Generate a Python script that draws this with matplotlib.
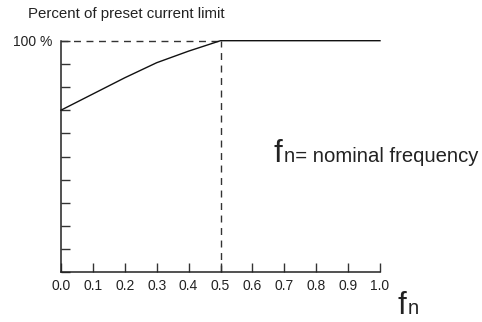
import matplotlib
matplotlib.use("Agg")
import matplotlib.pyplot as plt
import numpy as np

plt.rcParams.update({
    'font.family': ['Liberation Sans', 'DejaVu Sans'],
    'axes.linewidth': 1.1,
})

# current limit curve (percent of preset limit vs f/fn)
freq = [0.0, 0.1, 0.2, 0.3, 0.4, 0.5, 1.0]
limit = [70, 77, 84, 90.5, 95.5, 100, 100]
knee_f = 0.5
x_ticks = [0.0, 0.1, 0.2, 0.3, 0.4, 0.5, 0.6, 0.7, 0.8, 0.9, 1.0]
y_ticks = [0, 10, 20, 30, 40, 50, 60, 70, 80, 90, 100]

W, H = 482, 322
fig = plt.figure(figsize=(W / 100, H / 100), dpi=100)
ax = fig.add_axes([61 / W, (H - 272.3) / H, (380 - 61) / W, (272.3 - 40.7) / H])

ax.plot(freq, limit, color='#111', lw=1.0, clip_on=False, zorder=3)
ax.plot([0, knee_f], [100, 100], color='#333', lw=1.0, ls=(0, (5, 4)), clip_on=False)
ax.plot([knee_f, knee_f], [0, 100], color='#333', lw=1.0, ls=(0, (5, 4)), clip_on=False)

ax.set_xlim(0, 1)
ax.set_ylim(0, 100)
for s in ('top', 'right'):
    ax.spines[s].set_visible(False)
for s in ('left', 'bottom'):
    ax.spines[s].set_color('#222')

ax.set_xticks(x_ticks)
ax.set_xticklabels(['%.1f' % v for v in x_ticks])
ax.set_xticks([0.5, 1.0], minor=True)
ax.set_yticks(y_ticks)
ax.set_yticklabels(['100 %' if v == 100 else '' for v in y_ticks])
ax.set_yticks([50], minor=True)

ax.tick_params(which='major', direction='in', length=6.3, width=1.0, color='#333',
               labelsize=10, labelcolor='#222', pad=5)
ax.tick_params(axis='y', which='major', pad=6)
ax.tick_params(which='minor', direction='in', length=12.5, width=1.0, color='#333')

fig.text(28 / W, 1 - 14 / H, 'Percent of preset current limit', fontsize=10.8,
         color='#222', va='center', ha='left')

# fn = nominal frequency note
fig.text(273 / W, 1 - 161.7 / H, 'f', fontsize=22.5, color='#222', va='baseline')
fig.text(283.5 / W, 1 - 161.7 / H, 'n= nominal frequency', fontsize=14.6,
         color='#222', va='baseline')
# axis label
fig.text(397 / W, 1 - 314.5 / H, 'f', fontsize=22.5, color='#222', va='baseline')
fig.text(407.5 / W, 1 - 314.5 / H, 'n', fontsize=14.6, color='#222', va='baseline')

fig.savefig('out.png', dpi=100)
